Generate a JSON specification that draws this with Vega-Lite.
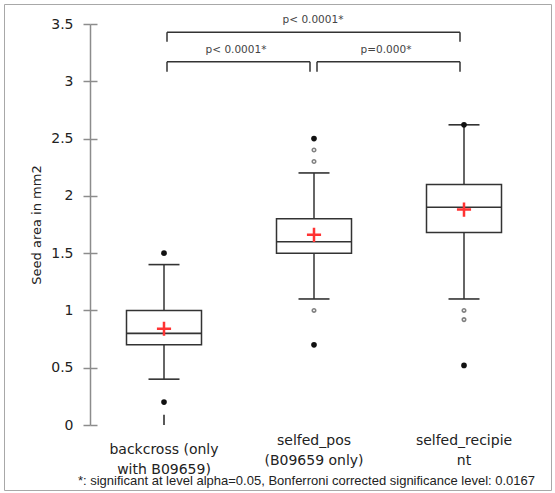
{
  "$schema": "https://vega.github.io/schema/vega-lite/v6.json",
  "width": 547,
  "height": 486,
  "autosize": "none",
  "padding": {"left": 4, "top": 4, "right": 4, "bottom": 3},
  "background": "white",
  "config": {
    "view": {"stroke": "#a8a8a8", "strokeWidth": 1},
    "font": "DejaVu Sans"
  },
  "datasets": {
    "stats": [
      {"cat": "backcross (only with B09659)", "lower": 0.4, "q1": 0.7, "median": 0.8, "q3": 1.0, "upper": 1.4, "mean": 0.84},
      {"cat": "selfed_pos (B09659 only)", "lower": 1.1, "q1": 1.5, "median": 1.6, "q3": 1.8, "upper": 2.2, "mean": 1.66},
      {"cat": "selfed_recipient", "lower": 1.1, "q1": 1.68, "median": 1.9, "q3": 2.1, "upper": 2.62, "mean": 1.88}
    ],
    "outliers": [
      {"cat": "backcross (only with B09659)", "value": 1.5, "kind": "extreme"},
      {"cat": "backcross (only with B09659)", "value": 0.2, "kind": "extreme"},
      {"cat": "selfed_pos (B09659 only)", "value": 2.5, "kind": "extreme"},
      {"cat": "selfed_pos (B09659 only)", "value": 2.4, "kind": "mild"},
      {"cat": "selfed_pos (B09659 only)", "value": 2.3, "kind": "mild"},
      {"cat": "selfed_pos (B09659 only)", "value": 1.0, "kind": "mild"},
      {"cat": "selfed_pos (B09659 only)", "value": 0.7, "kind": "extreme"},
      {"cat": "selfed_recipient", "value": 2.62, "kind": "extreme"},
      {"cat": "selfed_recipient", "value": 1.0, "kind": "mild"},
      {"cat": "selfed_recipient", "value": 0.92, "kind": "mild"},
      {"cat": "selfed_recipient", "value": 0.52, "kind": "extreme"}
    ],
    "stub": [
      {"cat": "backcross (only with B09659)", "from": 0.0, "to": 0.09}
    ],
    "brackets": [
      {"from": "backcross (only with B09659)", "to": "selfed_pos (B09659 only)", "level": 3.171, "leg": 3.084, "label": "p< 0.0001*", "labelY": 3.273, "tier": "low"},
      {"from": "selfed_pos (B09659 only)", "to": "selfed_recipient", "level": 3.171, "leg": 3.084, "label": "p=0.000*", "labelY": 3.273, "tier": "low"},
      {"from": "backcross (only with B09659)", "to": "selfed_recipient", "level": 3.428, "leg": 3.346, "label": "p< 0.0001*", "labelY": 3.535, "tier": "high"}
    ]
  },
  "resolve": {"axis": {"y": "independent"}},
  "layer": [
    {
      "data": {"name": "stats"},
      "mark": {"type": "rule", "stroke": "#333333", "strokeWidth": 1.5},
      "encoding": {
        "x": {
          "field": "cat", "type": "nominal",
          "scale": {"domain": ["backcross (only with B09659)", "selfed_pos (B09659 only)", "selfed_recipient"], "range": [85, 535], "paddingInner": 0, "paddingOuter": 0},
          "axis": {
            "orient": "bottom", "offset": -65, "domain": false, "ticks": false, "tickSize": 0,
            "labelAngle": 0, "labelFont": "DejaVu Sans", "labelFontSize": 14, "labelColor": "#222222",
            "labelLineHeight": 20, "labelBaseline": "top",
            "labelPadding": {"condition": {"test": "datum.value === 'backcross (only with B09659)'", "value": 17}, "value": 8},
            "labelExpr": "datum.value === 'backcross (only with B09659)' ? ['backcross (only', 'with B09659)'] : datum.value === 'selfed_pos (B09659 only)' ? ['selfed_pos', '(B09659 only)'] : ['selfed_recipie', 'nt']",
            "title": "*: significant at level alpha=0.05, Bonferroni corrected significance level: 0.0167",
            "titleFont": "Liberation Sans", "titleFontSize": 13, "titleFontWeight": "normal", "titleColor": "#222222",
            "titlePadding": -2, "titleX": 302
          }
        },
        "y": {
          "field": "lower", "type": "quantitative",
          "scale": {"domain": [0, 3.5], "range": [421, 20], "nice": false, "zero": false},
          "axis": {
            "orient": "left", "offset": -86, "values": [0, 0.5, 1, 1.5, 2, 2.5, 3, 3.5], "format": "~f",
            "grid": false, "domainColor": "#8c8c8c", "domainWidth": 1.5, "tickColor": "#8c8c8c", "tickWidth": 1.5, "tickSize": 7,
            "labelFont": "DejaVu Sans", "labelFontSize": 14, "labelColor": "#222222", "labelPadding": 10,
            "title": "Seed area in mm2", "titleFont": "DejaVu Sans", "titleFontSize": 13, "titleFontWeight": "normal", "titleColor": "#222222", "titlePadding": 7
          }
        },
        "y2": {"field": "upper"}
      }
    },
    {
      "data": {"name": "stats"},
      "mark": {"type": "tick", "color": "#333333", "size": 31, "thickness": 1.6, "opacity": 1},
      "encoding": {
        "x": {"field": "cat", "type": "nominal"},
        "y": {"field": "lower", "type": "quantitative", "axis": {
            "orient": "left", "offset": -93, "values": [0, 0.5, 1, 1.5, 2, 2.5, 3, 3.5],
            "grid": false, "domain": false, "labels": false, "title": null,
            "tickColor": "#8c8c8c", "tickWidth": 1.5, "tickSize": 7}}
      }
    },
    {
      "data": {"name": "stats"},
      "mark": {"type": "tick", "color": "#333333", "size": 31, "thickness": 1.6, "opacity": 1},
      "encoding": {
        "x": {"field": "cat", "type": "nominal"},
        "y": {"field": "upper", "type": "quantitative", "axis": null}
      }
    },
    {
      "data": {"name": "stats"},
      "mark": {"type": "bar", "size": 75, "fill": "white", "stroke": "#333333", "strokeWidth": 1.5, "opacity": 1},
      "encoding": {
        "x": {"field": "cat", "type": "nominal"},
        "y": {"field": "q1", "type": "quantitative", "axis": null},
        "y2": {"field": "q3"}
      }
    },
    {
      "data": {"name": "stats"},
      "mark": {"type": "tick", "color": "#333333", "size": 75, "thickness": 1.6, "opacity": 1},
      "encoding": {
        "x": {"field": "cat", "type": "nominal"},
        "y": {"field": "median", "type": "quantitative", "axis": null}
      }
    },
    {
      "data": {"name": "stats"},
      "mark": {"type": "point", "shape": "M-1,0L1,0M0,-1L0,1", "filled": false, "stroke": "#ff3333", "strokeWidth": 2.5, "size": 200, "opacity": 1},
      "encoding": {
        "x": {"field": "cat", "type": "nominal"},
        "y": {"field": "mean", "type": "quantitative", "axis": null}
      }
    },
    {
      "data": {"name": "outliers"},
      "transform": [{"filter": "datum.kind === 'extreme'"}],
      "mark": {"type": "circle", "color": "#111111", "size": 32, "opacity": 1},
      "encoding": {
        "x": {"field": "cat", "type": "nominal"},
        "y": {"field": "value", "type": "quantitative", "axis": null}
      }
    },
    {
      "data": {"name": "outliers"},
      "transform": [{"filter": "datum.kind === 'mild'"}],
      "mark": {"type": "point", "shape": "circle", "filled": false, "stroke": "#808080", "strokeWidth": 1.6, "size": 12, "opacity": 1},
      "encoding": {
        "x": {"field": "cat", "type": "nominal"},
        "y": {"field": "value", "type": "quantitative", "axis": null}
      }
    },
    {
      "data": {"name": "stub"},
      "mark": {"type": "rule", "stroke": "#222222", "strokeWidth": 1.5},
      "encoding": {
        "x": {"field": "cat", "type": "nominal"},
        "y": {"field": "from", "type": "quantitative", "axis": null},
        "y2": {"field": "to"}
      }
    },
    {
      "data": {"name": "brackets"},
      "mark": {"type": "rule", "stroke": "#333333", "strokeWidth": 1.5, "xOffset": 3, "x2Offset": -4},
      "encoding": {
        "x": {"field": "from", "type": "nominal"},
        "x2": {"field": "to"},
        "y": {"field": "level", "type": "quantitative", "axis": null}
      }
    },
    {
      "data": {"name": "brackets"},
      "mark": {"type": "rule", "stroke": "#333333", "strokeWidth": 1.5, "xOffset": 3},
      "encoding": {
        "x": {"field": "from", "type": "nominal"},
        "y": {"field": "level", "type": "quantitative", "axis": null},
        "y2": {"field": "leg"}
      }
    },
    {
      "data": {"name": "brackets"},
      "mark": {"type": "rule", "stroke": "#333333", "strokeWidth": 1.5, "xOffset": -4},
      "encoding": {
        "x": {"field": "to", "type": "nominal"},
        "y": {"field": "level", "type": "quantitative", "axis": null},
        "y2": {"field": "leg"}
      }
    },
    {
      "data": {"name": "brackets"},
      "transform": [{"filter": "datum.tier === 'low'"}],
      "mark": {"type": "text", "font": "DejaVu Sans", "fontSize": 10.5, "color": "#444444", "dx": -3, "baseline": "middle"},
      "encoding": {
        "x": {"field": "from", "type": "nominal", "bandPosition": 1},
        "y": {"field": "labelY", "type": "quantitative", "axis": null},
        "text": {"field": "label"}
      }
    },
    {
      "data": {"name": "brackets"},
      "transform": [{"filter": "datum.tier === 'high'"}],
      "mark": {"type": "text", "font": "DejaVu Sans", "fontSize": 10.5, "color": "#444444", "dx": -1, "baseline": "middle"},
      "encoding": {
        "x": {"datum": "selfed_pos (B09659 only)", "type": "nominal"},
        "y": {"field": "labelY", "type": "quantitative", "axis": null},
        "text": {"field": "label"}
      }
    }
  ]
}
